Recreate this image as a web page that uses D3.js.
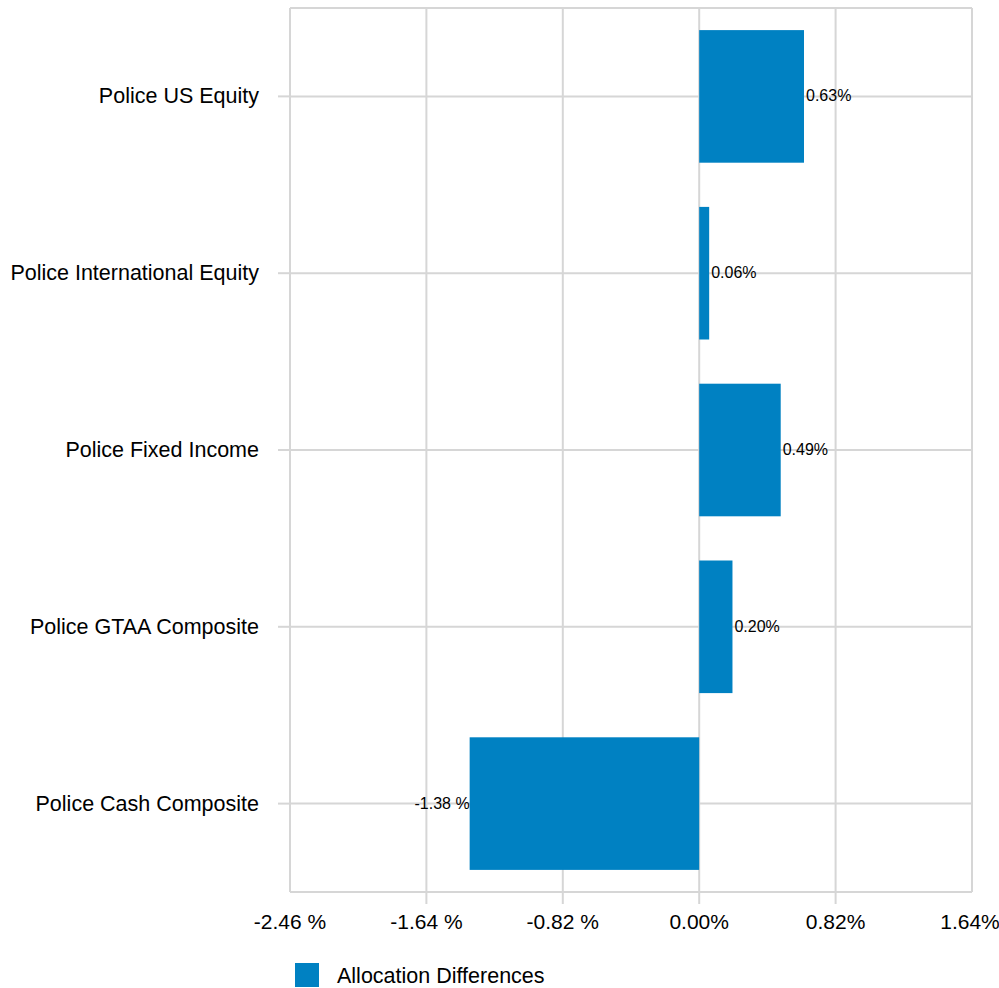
<!DOCTYPE html>
<html>
<head>
<meta charset="utf-8">
<script src="https://d3js.org/d3.v7.min.js"></script>
<style>
body { margin: 0; background: #fff; }
svg text { font-family: 'Liberation Sans', Arial, sans-serif; fill: #000; }
.grid line { stroke: #d6d6d6; stroke-width: 2px; }
</style>
</head>
<body>
<svg></svg>
<script>
// data
const categories = ["Police US Equity", "Police International Equity", "Police Fixed Income",
  "Police GTAA Composite", "Police Cash Composite"];
const values = [0.63, 0.06, 0.49, 0.20, -1.38];
const tickValues = [-2.46, -1.64, -0.82, 0, 0.82, 1.64];
const seriesName = "Allocation Differences";

const width = 999, height = 988;
const margin = {top: 8, right: 27, bottom: 96, left: 290};
const color = "#0081c2";

const svg = d3.select("svg").attr("width", width).attr("height", height);

const x = d3.scaleLinear()
  .domain([tickValues[0], tickValues[tickValues.length - 1]])
  .range([margin.left, width - margin.right]);

const y = d3.scaleBand()
  .domain(categories)
  .range([margin.top, height - margin.bottom])
  .paddingInner(0.25)
  .paddingOuter(0.125);

const fmt = v => v < 0 ? v.toFixed(2) + " %" : v.toFixed(2) + "%";

const grid = svg.append("g").attr("class", "grid");

// vertical gridlines
grid.selectAll(".vx")
  .data(tickValues)
  .enter().append("line")
    .attr("x1", d => x(d)).attr("x2", d => x(d))
    .attr("y1", margin.top).attr("y2", height - margin.bottom);

// x tick marks (interior only)
grid.selectAll(".tx")
  .data(tickValues.slice(1, -1))
  .enter().append("line")
    .attr("x1", d => x(d)).attr("x2", d => x(d))
    .attr("y1", height - margin.bottom).attr("y2", height - margin.bottom + 12);

// horizontal lines: top, bottom and category centres
const yLines = [margin.top, height - margin.bottom].concat(categories.map(c => y(c) + y.bandwidth() / 2));
grid.selectAll(".hy")
  .data(yLines)
  .enter().append("line")
    .attr("x1", margin.left).attr("x2", width - margin.right)
    .attr("y1", d => d).attr("y2", d => d);

// y tick marks
grid.selectAll(".ty")
  .data(categories)
  .enter().append("line")
    .attr("x1", margin.left - 12).attr("x2", margin.left)
    .attr("y1", d => y(d) + y.bandwidth() / 2).attr("y2", d => y(d) + y.bandwidth() / 2);

// bars
svg.selectAll(".bar")
  .data(values)
  .enter().append("rect")
    .attr("class", "bar")
    .attr("x", d => x(Math.min(0, d)))
    .attr("width", d => Math.abs(x(d) - x(0)))
    .attr("y", (d, i) => y(categories[i]))
    .attr("height", y.bandwidth())
    .attr("fill", color);

// value labels
svg.selectAll(".val")
  .data(values)
  .enter().append("text")
    .attr("x", d => d < 0 ? x(d) : x(d) + 2)
    .attr("y", (d, i) => y(categories[i]) + y.bandwidth() / 2 + 5)
    .attr("text-anchor", d => d < 0 ? "end" : "start")
    .style("font-size", "16px")
    .text(fmt);

// category labels
svg.selectAll(".cat")
  .data(categories)
  .enter().append("text")
    .attr("x", margin.left - 31)
    .attr("y", d => y(d) + y.bandwidth() / 2 + 7)
    .attr("text-anchor", "end")
    .style("font-size", "21.5px")
    .text(d => d);

// x tick labels
svg.selectAll(".xl")
  .data(tickValues)
  .enter().append("text")
    .attr("x", (d, i) => i === tickValues.length - 1 ? x(d) - 2 : x(d))
    .attr("y", height - margin.bottom + 37)
    .attr("text-anchor", "middle")
    .style("font-size", "21px")
    .text(fmt);

// legend
const legend = svg.append("g").attr("transform", "translate(295,963)");
legend.append("rect").attr("width", 24).attr("height", 24).attr("fill", color);
legend.append("text").attr("x", 42).attr("y", 20).style("font-size", "21.5px").text(seriesName);
</script>
</body>
</html>
